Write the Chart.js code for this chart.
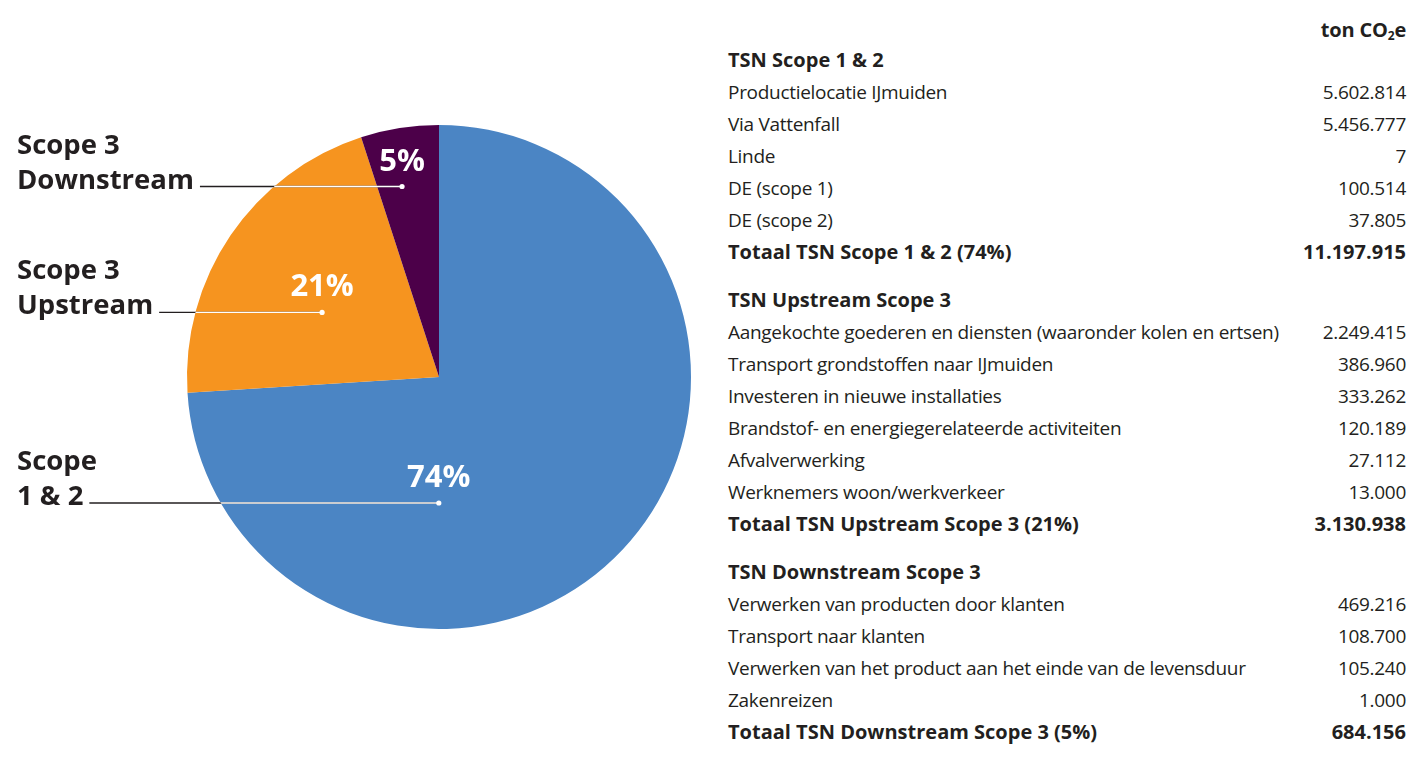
<!DOCTYPE html>
<html>
<head>
<meta charset="utf-8">
<script src="https://cdn.jsdelivr.net/npm/chart.js@4/dist/chart.umd.min.js"></script>
<style>
  html, body { margin: 0; padding: 0; background: #fff; width: 1410px; height: 760px; overflow: hidden; }
  #pieWrap { position: absolute; left: 0; top: 0; width: 700px; height: 760px; }
  #tbl { position: absolute; left: 728px; top: 44px; width: 678px; font-family: "Open Sans", sans-serif; color: #231f20; font-size: 19px; letter-spacing: -0.3px; }
  #unit { position: absolute; right: 4px; top: 14px; font-family: "Open Sans", sans-serif; color: #231f20; font-size: 20px; font-weight: 700; letter-spacing: -0.2px; line-height: 32px; }
  #unit sub { font-size: 12px; vertical-align: -3px; line-height: 0; }
  .row { display: flex; justify-content: space-between; height: 32px; line-height: 32px; white-space: nowrap; }
  .b { font-weight: 700; font-size: 20px; letter-spacing: 0; }
  .grp { margin-bottom: 16px; }
</style>
</head>
<body>
<div id="pieWrap"><canvas id="c" width="700" height="760"></canvas></div>
<div id="unit">ton CO<sub>2</sub>e</div>
<div id="tbl"></div>
<script>
// ---- data ----
const sliceLabels = [["Scope", "1 & 2"], ["Scope 3", "Upstream"], ["Scope 3", "Downstream"]];
const slicePercents = [74, 21, 5];
const sliceColors = ["#4b85c4", "#f6941f", "#4c0049"];

const groupTitles = ["TSN Scope 1 & 2", "TSN Upstream Scope 3", "TSN Downstream Scope 3"];
const scope12Items = ["Productielocatie IJmuiden", "Via Vattenfall", "Linde", "DE (scope 1)", "DE (scope 2)"];
const scope12Values = [5602814, 5456777, 7, 100514, 37805];
const upstreamItems = ["Aangekochte goederen en diensten (waaronder kolen en ertsen)", "Transport grondstoffen naar IJmuiden", "Investeren in nieuwe installaties", "Brandstof- en energiegerelateerde activiteiten", "Afvalverwerking", "Werknemers woon/werkverkeer"];
const upstreamValues = [2249415, 386960, 333262, 120189, 27112, 13000];
const downstreamItems = ["Verwerken van producten door klanten", "Transport naar klanten", "Verwerken van het product aan het einde van de levensduur", "Zakenreizen"];
const downstreamValues = [469216, 108700, 105240, 1000];
const totalLabels = ["Totaal TSN Scope 1 & 2 (74%)", "Totaal TSN Upstream Scope 3 (21%)", "Totaal TSN Downstream Scope 3 (5%)"];
const totalValues = [11197915, 3130938, 684156];

// ---- table ----
function fmt(n) { return String(n).replace(/\B(?=(\d{3})+(?!\d))/g, "."); }
const groups = [[scope12Items, scope12Values], [upstreamItems, upstreamValues], [downstreamItems, downstreamValues]];
const tbl = document.getElementById("tbl");
groups.forEach((g, gi) => {
  const d = document.createElement("div");
  d.className = "grp";
  let h = `<div class="row b"><span>${groupTitles[gi]}</span><span></span></div>`;
  g[0].forEach((lab, i) => { h += `<div class="row"><span>${lab}</span><span>${fmt(g[1][i])}</span></div>`; });
  h += `<div class="row b"><span>${totalLabels[gi]}</span><span>${fmt(totalValues[gi])}</span></div>`;
  d.innerHTML = h;
  tbl.appendChild(d);
});

// ---- pie annotation style ----
const anchorFrac = [0.676, 0.43, 0.39];   // position within slice angle
const anchorRad = [0.5, 0.53, 0.77];      // fraction of radius

const annot = {
  id: "annot",
  afterDatasetsDraw(chart) {
    const ctx = chart.ctx;
    const meta = chart.getDatasetMeta(0);
    meta.data.forEach((arc, i) => {
      const p = arc.getProps(["x", "y", "startAngle", "endAngle", "outerRadius"], true);
      const a = p.startAngle + anchorFrac[i] * (p.endAngle - p.startAngle);
      const r = anchorRad[i] * p.outerRadius;
      const dx = p.x + Math.cos(a) * r;
      const dy = p.y + Math.sin(a) * r;
      ctx.save();
      ctx.font = "700 27.5px 'Open Sans', sans-serif";
      ctx.fillStyle = "#231f20";
      ctx.textAlign = "left";
      ctx.textBaseline = "alphabetic";
      const lines = sliceLabels[i];
      const tx = 17;
      ctx.fillText(lines[0], tx, dy + 2 - 35);
      ctx.fillText(lines[1], tx, dy + 2);
      const w = ctx.measureText(lines[1]).width;
      const lx0 = tx + w + 6;
      ctx.strokeStyle = "#231f20";
      ctx.lineWidth = 1.3;
      ctx.beginPath(); ctx.moveTo(lx0, dy); ctx.lineTo(dx, dy); ctx.stroke();
      ctx.save();
      ctx.beginPath(); ctx.arc(p.x, p.y, p.outerRadius, 0, Math.PI * 2); ctx.clip();
      ctx.strokeStyle = "#ffffff";
      ctx.beginPath(); ctx.moveTo(lx0, dy); ctx.lineTo(dx, dy); ctx.stroke();
      ctx.restore();
      ctx.fillStyle = "#ffffff";
      ctx.beginPath(); ctx.arc(dx, dy, 2.6, 0, Math.PI * 2); ctx.fill();
      ctx.font = "700 31px 'Open Sans', sans-serif";
      ctx.textAlign = "center";
      ctx.fillText(chart.data.datasets[0].data[i] + "%", dx, dy - 16);
      ctx.restore();
    });
  }
};

new Chart(document.getElementById("c"), {
  type: "pie",
  data: {
    labels: sliceLabels.map(l => l.join(" ")),
    datasets: [{ data: slicePercents, backgroundColor: sliceColors, borderWidth: 0 }]
  },
  options: {
    responsive: false,
    animation: false,
    layout: { padding: { left: 187, right: 9, top: 125, bottom: 131 } },
    plugins: { legend: { display: false }, tooltip: { enabled: false } }
  },
  plugins: [annot]
});
</script>
</body>
</html>
